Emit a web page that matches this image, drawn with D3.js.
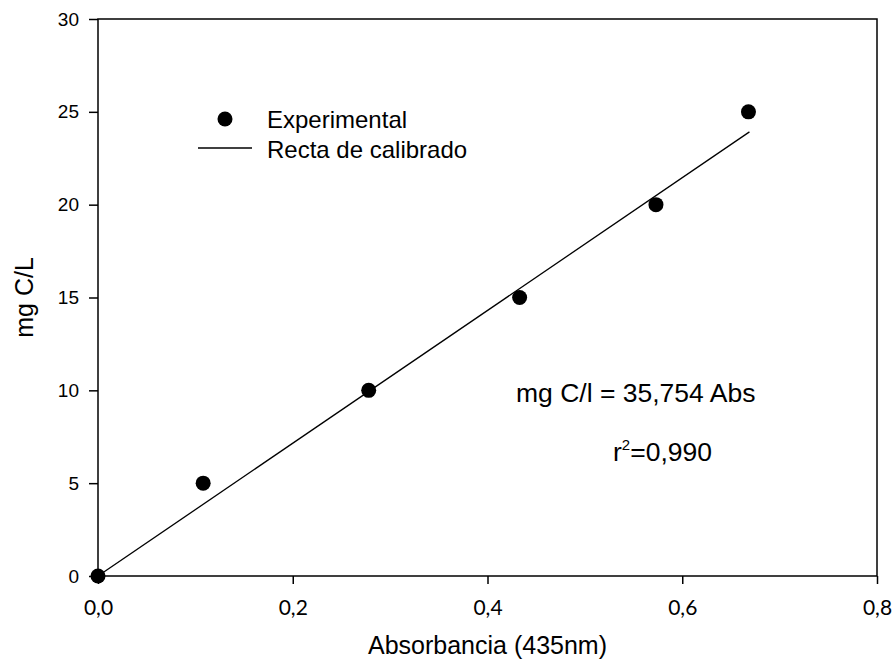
<!DOCTYPE html>
<html>
<head>
<meta charset="utf-8">
<script src="https://d3js.org/d3.v7.min.js"></script>
<style>
body { margin: 0; background: #fff; }
text { font-family: "Liberation Sans", Arial, sans-serif; fill: #000; }
.axis line { stroke: #000; stroke-width: 1.5px; }
</style>
</head>
<body>
<script>

// data
var absorb = [0, 0.108, 0.278, 0.433, 0.573, 0.668];
var conc = [0, 5, 10, 15, 20, 25];
var slope = 35.754;
var fitX = [0, 0.669];
var xTicks = [0, 0.2, 0.4, 0.6, 0.8];
var yTicks = [0, 5, 10, 15, 20, 25, 30];

var width = 895,
    height = 666,
    margin = {top: 19, right: 18, bottom: 90, left: 98};

var svg = d3.select('body').append('svg')
  .attr('width', width)
  .attr('height', height);

var x = d3.scaleLinear().domain([0, 0.8]).range([margin.left, width - margin.right]);
var y = d3.scaleLinear().domain([0, 30]).range([height - margin.bottom, margin.top]);

var fmt = function(d) { return d3.format('.1f')(d).replace('.', ','); };

// frame
svg.append('rect')
  .attr('x', x(0)).attr('y', y(30))
  .attr('width', x(0.8) - x(0)).attr('height', y(0) - y(30))
  .attr('fill', 'none').attr('stroke', '#000').attr('stroke-width', 1.5);

var xAxis = svg.append('g')
  .attr('class', 'axis')
  .attr('transform', 'translate(0,' + y(0) + ')')
  .call(d3.axisBottom(x).tickValues(xTicks).tickFormat(fmt).tickSize(8).tickPadding(16));
xAxis.selectAll('text').style('font-size', '21px').style('font-family', 'Lato, sans-serif');

var yAxis = svg.append('g')
  .attr('class', 'axis')
  .attr('transform', 'translate(' + x(0) + ',0)')
  .call(d3.axisLeft(y).tickValues(yTicks).tickSize(9).tickPadding(10));
yAxis.selectAll('text').style('font-size', '19px');
svg.selectAll('.axis .domain').remove();

// calibration line
svg.append('line')
  .attr('x1', x(fitX[0])).attr('y1', y(slope * fitX[0]))
  .attr('x2', x(fitX[1])).attr('y2', y(slope * fitX[1]))
  .attr('stroke', '#000').attr('stroke-width', 1.3);

// experimental points
svg.selectAll('circle.pt')
  .data(absorb)
  .enter().append('circle')
  .attr('class', 'pt')
  .attr('cx', function(d) { return x(d); })
  .attr('cy', function(d, i) { return y(conc[i]); })
  .attr('r', 7.5)
  .attr('fill', '#000');

// legend
svg.append('circle').attr('cx', 225).attr('cy', 119).attr('r', 7.5).attr('fill', '#000');
svg.append('text').attr('x', 267).attr('y', 128).style('font-size', '24px').text('Experimental');
svg.append('line').attr('x1', 198).attr('x2', 252).attr('y1', 148).attr('y2', 148)
  .attr('stroke', '#000').attr('stroke-width', 1.3);
svg.append('text').attr('x', 267).attr('y', 158).style('font-size', '24px').text('Recta de calibrado');

// annotations
svg.append('text').attr('x', 516).attr('y', 402).style('font-size', '26.5px').text('mg C/l = 35,754 Abs');
var r2 = svg.append('text').attr('x', 613).attr('y', 461).style('font-size', '26.5px');
r2.append('tspan').text('r');
r2.append('tspan').attr('dy', -11).style('font-size', '15px').text('2');
r2.append('tspan').attr('dy', 11).text('=0,990');

// axis titles
svg.append('text')
  .attr('x', x(0.4)).attr('y', 654)
  .attr('text-anchor', 'middle')
  .style('font-size', '25px')
  .text('Absorbancia (435nm)');

svg.append('text')
  .attr('transform', 'translate(33,' + y(15) + ') rotate(-90)')
  .attr('text-anchor', 'middle')
  .style('font-size', '25px')
  .text('mg C/L');

</script>
</body>
</html>
